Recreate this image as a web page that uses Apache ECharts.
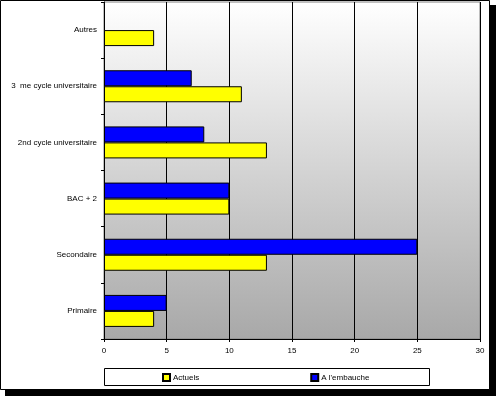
<!DOCTYPE html>
<html>
<head>
<meta charset="utf-8">
<script src="https://cdn.jsdelivr.net/npm/echarts@6/dist/echarts.min.js"></script>
<style>
  html, body { margin: 0; padding: 0; background: #fff; }
  #chart { width: 496px; height: 396px; }
</style>
</head>
<body>
<div id="chart"></div>
<script>
// categories bottom -> top
const categories = ['Primaire', 'Secondaire', 'BAC + 2', '2nd cycle universitaire', '3  me cycle universitaire', 'Autres']
const actuels = [4, 13, 10, 13, 11, 4]
const aLEmbauche = [5, 25, 10, 8, 7, null]
const xTicks = { min: 0, max: 30, interval: 5 }

const chart = echarts.init(document.getElementById('chart'))

const font = 'Liberation Sans, Arial, sans-serif'

const option = {
  animation: false,
  textStyle: { fontFamily: font },
  graphic: [
    { type: 'rect', z: -100, silent: true, shape: { x: 5, y: 5, width: 491, height: 391 }, style: { fill: '#000' } },
    { type: 'rect', z: -99, silent: true, shape: { x: 0.5, y: 0.5, width: 489, height: 389 }, style: { fill: '#fff', stroke: '#000', lineWidth: 1 } },
    { type: 'rect', z: -98, silent: true, shape: { x: 104.5, y: 368.5, width: 325, height: 17 }, style: { fill: '#fff', stroke: '#000', lineWidth: 1 } },
  ],
  legend: {
    data: ['Actuels', "A l'embauche"],
    left: 162,
    top: 373,
    itemWidth: 7,
    itemHeight: 7,
    itemGap: 111,
    icon: 'rect',
    padding: 0,
    textStyle: { fontSize: 8, color: '#000', fontFamily: font, padding: [0, 0, 0, -2] },
  },
  grid: {
    left: 104,
    right: 16,
    top: 2,
    bottom: 57,
    show: true,
    borderColor: '#808080',
    borderWidth: 1,
    backgroundColor: new echarts.graphic.LinearGradient(0, 0, 0, 1, [
      { offset: 0, color: '#ffffff' },
      { offset: 1, color: '#a8a8a8' },
    ]),
  },
  xAxis: {
    type: 'value',
    min: xTicks.min,
    max: xTicks.max,
    interval: xTicks.interval,
    axisLine: { show: true, lineStyle: { color: '#000' } },
    axisTick: { show: true, length: 3, lineStyle: { color: '#000' } },
    axisLabel: { fontSize: 8, color: '#000', margin: 8 },
    splitLine: { show: true, lineStyle: { color: '#000', width: 1 } },
  },
  yAxis: {
    type: 'category',
    data: categories,
    axisLine: { show: true, lineStyle: { color: '#000' } },
    axisTick: { show: true, length: 3, lineStyle: { color: '#000' } },
    axisLabel: { fontSize: 8, color: '#000', margin: 7 },
  },
  // blue listed first so it sits above the yellow bar in each group
  series: [
    {
      name: "A l'embauche",
      type: 'bar',
      data: aLEmbauche,
      barWidth: 16,
      barGap: '0%',
      itemStyle: { color: '#0000ff', borderColor: '#000', borderWidth: 1 },
    },
    {
      name: 'Actuels',
      type: 'bar',
      data: actuels,
      barWidth: 16,
      barGap: '0%',
      itemStyle: { color: '#ffff00', borderColor: '#000', borderWidth: 1 },
    },
  ],
}

chart.setOption(option)
</script>
</body>
</html>
